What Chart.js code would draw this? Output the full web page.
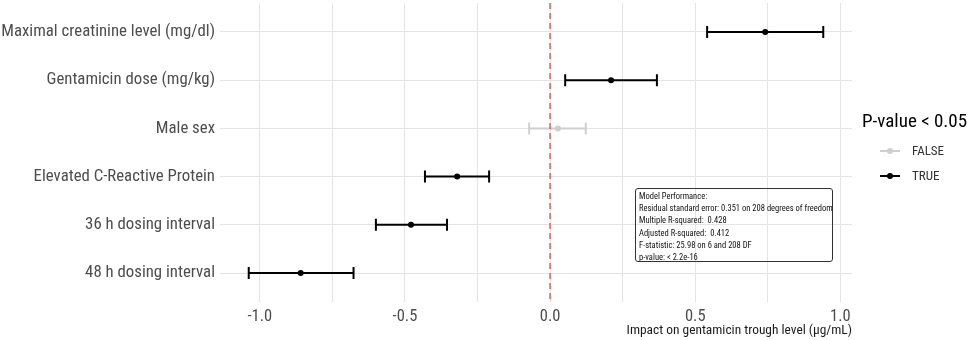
<!DOCTYPE html>
<html>
<head>
<meta charset="utf-8">
<script src="https://cdn.jsdelivr.net/npm/chart.js@4.4.1/dist/chart.umd.min.js"></script>
<style>
  html, body { margin: 0; padding: 0; background: #fff; }
  #wrap { position: relative; width: 972px; height: 340px; font-family: "Roboto Condensed", Roboto, sans-serif; }
  #chart { position: absolute; left: 0; top: 0; }
  #legend { position: absolute; left: 862px; top: 109px; color: #000; }
  #legend .title { font-size: 19px; line-height: 24px; margin-bottom: 5px; }
  #legend .item { position: relative; height: 25px; font-size: 13px; line-height: 25px; color: #333; padding-left: 50px; }
  #legend .key { position: absolute; left: 18px; top: 12px; width: 20px; height: 2px; }
  #legend .key::after { content: ""; position: absolute; left: 7px; top: -2px; width: 6px; height: 6px; border-radius: 50%; background: inherit; }
  #note { position: absolute; left: 635px; top: 188px; width: 198px; height: 74px; border: 1px solid #333; border-radius: 3px;
          font-size: 8.5px; line-height: 12.2px; color: #111; padding: 1px 0 0 3px; box-sizing: border-box; white-space: pre; }
</style>
</head>
<body>
<div id="wrap">
  <canvas id="chart" width="972" height="340"></canvas>
  <div id="legend"></div>
  <div id="note"></div>
</div>
<script>
const terms = [
  "Maximal creatinine level (mg/dl)",
  "Gentamicin dose (mg/kg)",
  "Male sex",
  "Elevated C-Reactive Protein",
  "36 h dosing interval",
  "48 h dosing interval"
];
const estimate = [0.741, 0.210, 0.027, -0.320, -0.479, -0.859];
const lower = [0.541, 0.052, -0.072, -0.431, -0.600, -1.038];
const upper = [0.941, 0.368, 0.123, -0.210, -0.355, -0.677];
const significant = [true, true, false, true, true, true];
const xTickLabels = [-1.0, -0.5, 0.0, 0.5, 1.0];
const legendLabels = ["FALSE", "TRUE"];
const modelLines = [
  "Model Performance:",
  "Residual standard error: 0.351 on 208 degrees of freedom",
  "Multiple R-squared:  0.428",
  "Adjusted R-squared:  0.412",
  "F-statistic: 25.98 on 6 and 208 DF",
  "p-value: < 2.2e-16"
];

const trueColor = "#000000";
const falseColor = "#cfcfcf";
const gridColor = "#e4e4e4";
const fontFamily = '"Roboto Condensed", Roboto, sans-serif';

// whiskers with end caps, drawn under the points
const errorBars = {
  id: "errorBars",
  beforeDatasetsDraw(chart) {
    const { ctx, scales: { x, y } } = chart;
    ctx.save();
    ctx.lineWidth = 2;
    terms.forEach((t, i) => {
      const yy = y.getPixelForValue(i);
      const x0 = x.getPixelForValue(lower[i]);
      const x1 = x.getPixelForValue(upper[i]);
      ctx.strokeStyle = significant[i] ? trueColor : falseColor;
      ctx.beginPath();
      ctx.moveTo(x0, yy);
      ctx.lineTo(x1, yy);
      ctx.moveTo(x0, yy - 6);
      ctx.lineTo(x0, yy + 6);
      ctx.moveTo(x1, yy - 6);
      ctx.lineTo(x1, yy + 6);
      ctx.stroke();
    });
    ctx.restore();
  }
};

// dashed reference line at zero
const zeroLine = {
  id: "zeroLine",
  afterDatasetsDraw(chart) {
    const { ctx, chartArea, scales: { x } } = chart;
    const xx = x.getPixelForValue(0);
    ctx.save();
    ctx.strokeStyle = "rgba(225, 80, 80, 0.7)";
    ctx.lineWidth = 2;
    ctx.setLineDash([6, 4]);
    ctx.beginPath();
    ctx.moveTo(xx, chartArea.top);
    ctx.lineTo(xx, chartArea.bottom);
    ctx.stroke();
    ctx.restore();
  }
};

const points = terms.map((t, i) => ({ x: estimate[i], y: i }));

new Chart(document.getElementById("chart").getContext("2d"), {
  type: "scatter",
  data: {
    datasets: [
      {
        label: "estimate",
        data: points,
        pointRadius: 3,
        pointHoverRadius: 3,
        pointBorderWidth: 0,
        pointBackgroundColor: significant.map((s) => (s ? trueColor : falseColor)),
        pointBorderColor: significant.map((s) => (s ? trueColor : falseColor)),
      },
    ],
  },
  options: {
    responsive: false,
    animation: false,
    layout: { padding: { left: 0, right: 120, top: 0, bottom: 0 } },
    plugins: {
      legend: { display: false },
      tooltip: { enabled: false },
    },
    scales: {
      x: {
        type: "linear",
        min: -1.137,
        max: 1.040,
        border: { display: false },
        grid: { color: gridColor, lineWidth: 1, drawTicks: false },
        ticks: {
          stepSize: 0.25,
          includeBounds: false,
          autoSkip: false,
          maxRotation: 0,
          padding: 5,
          color: "#4d4d4d",
          font: { family: fontFamily, size: 16.5 },
          callback: function (value) {
            const hit = xTickLabels.find((v) => Math.abs(v - value) < 1e-6);
            return hit === undefined ? "" : hit.toFixed(1);
          },
        },
        title: {
          display: true,
          text: "Impact on gentamicin trough level (μg/mL)",
          align: "end",
          color: "#1a1a1a",
          font: { family: fontFamily, size: 13.4 },
          padding: { top: 0, bottom: 1 },
        },
        afterFit(scale) {
          scale.height = 38;
          scale.paddingLeft = 0;
          scale.paddingRight = 0;
        },
      },
      y: {
        type: "linear",
        reverse: true,
        min: -0.6,
        max: 5.6,
        border: { display: false },
        grid: { color: gridColor, lineWidth: 1, drawTicks: false },
        ticks: {
          stepSize: 1,
          includeBounds: false,
          autoSkip: false,
          padding: 5,
          color: "#4d4d4d",
          font: { family: fontFamily, size: 16.8 },
          callback: function (value) {
            return terms[value] !== undefined ? terms[value] : "";
          },
        },
        afterFit(scale) {
          scale.width = 220;
          scale.paddingTop = 0;
          scale.paddingBottom = 0;
        },
      },
    },
  },
  plugins: [errorBars, zeroLine],
});

// legend
const legendEl = document.getElementById("legend");
legendEl.innerHTML = '<div class="title">P-value &lt; 0.05</div>' +
  legendLabels.map((l) => {
    const c = l === "TRUE" ? trueColor : falseColor;
    return '<div class="item"><span class="key" style="background:' + c + '"></span>' + l + "</div>";
  }).join("");

// model performance box
document.getElementById("note").innerHTML = modelLines.map((l) => "<div>" + l.replace(/</g, "&lt;") + "</div>").join("");
</script>
</body>
</html>
